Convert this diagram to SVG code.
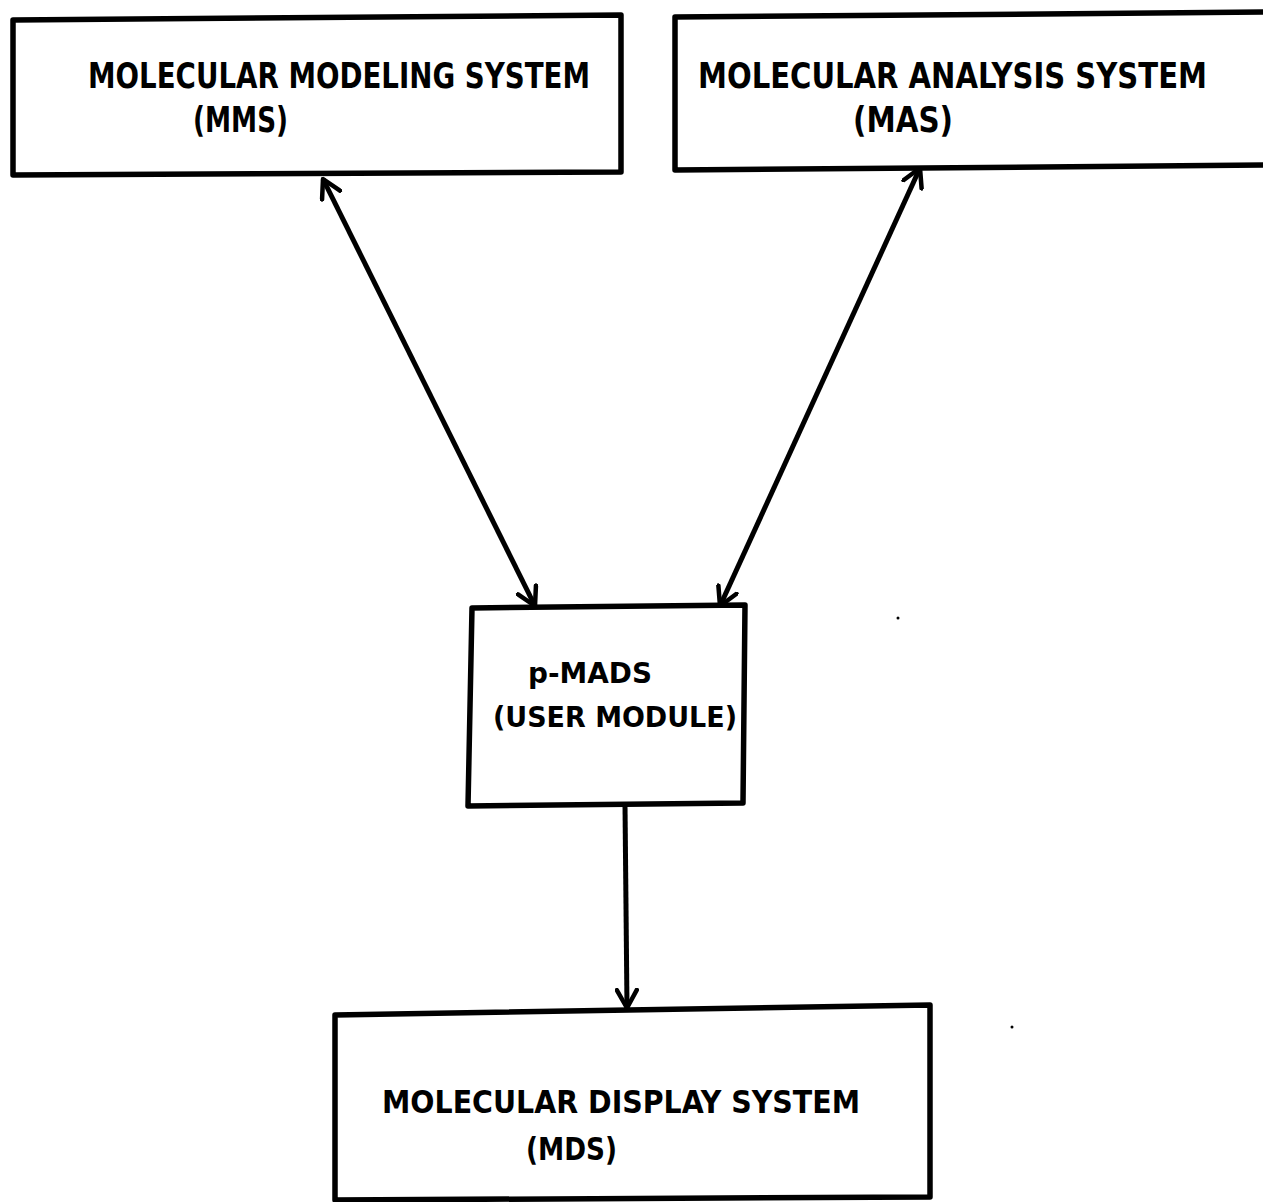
<svg xmlns="http://www.w3.org/2000/svg" width="1263" height="1202" viewBox="0 0 1263 1202">
<style>
.box{fill:none;stroke:#000;stroke-width:5.5;stroke-linejoin:round}
.lbl{font-family:"DejaVu Sans Condensed","DejaVu Sans","Liberation Sans",sans-serif;font-weight:bold;fill:#000}
.big{font-size:35px}
.mid{font-size:32px}
.sm{font-size:28px}
.conn{fill:none;stroke:#000;stroke-width:5}
</style>
<defs>
<marker id="ah" viewBox="0 0 22 24" refX="20" refY="12" markerWidth="22" markerHeight="24" markerUnits="userSpaceOnUse" orient="auto-start-reverse">
<path d="M2,2 L20,12 L2,22" fill="none" stroke="#000" stroke-width="4.5" stroke-linecap="round" stroke-linejoin="round"/>
</marker>
</defs>
<rect width="1263" height="1202" fill="#fff"/>
<g id="mms">
<polygon class="box" points="13,20 621,15 621,172 13,175"/>
<text class="lbl big" x="88" y="88" textLength="502" lengthAdjust="spacingAndGlyphs">MOLECULAR MODELING SYSTEM</text>
<text class="lbl big" x="193" y="132" textLength="95" lengthAdjust="spacingAndGlyphs">(MMS)</text>
</g>
<g id="mas">
<polygon class="box" points="675,17 1275,12 1275,165 675,170"/>
<text class="lbl big" x="698" y="88" textLength="509" lengthAdjust="spacingAndGlyphs">MOLECULAR ANALYSIS SYSTEM</text>
<text class="lbl big" x="853" y="132" textLength="100" lengthAdjust="spacingAndGlyphs">(MAS)</text>
</g>
<g id="pmads">
<polygon class="box" points="472,608 745,605 743,803 468,806"/>
<text class="lbl sm" x="528" y="683" textLength="124" lengthAdjust="spacingAndGlyphs">p-MADS</text>
<text class="lbl sm" x="493" y="727" textLength="244" lengthAdjust="spacingAndGlyphs">(USER MODULE)</text>
</g>
<g id="mds">
<polygon class="box" points="335,1015 930,1005 930,1197 335,1200"/>
<text class="lbl mid" x="382" y="1113" textLength="478" lengthAdjust="spacingAndGlyphs">MOLECULAR DISPLAY SYSTEM</text>
<text class="lbl mid" x="526" y="1160" textLength="91" lengthAdjust="spacingAndGlyphs">(MDS)</text>
</g>
<g id="connectors">
<line class="conn" x1="323" y1="179" x2="535" y2="606" marker-start="url(#ah)" marker-end="url(#ah)"/>
<line class="conn" x1="920" y1="168" x2="720" y2="606" marker-start="url(#ah)" marker-end="url(#ah)"/>
<line class="conn" x1="625" y1="805" x2="627" y2="1008" marker-end="url(#ah)"/>
</g>
<circle cx="898" cy="618" r="1.5" fill="#000"/>
<circle cx="1012" cy="1027" r="1.5" fill="#000"/>
</svg>
